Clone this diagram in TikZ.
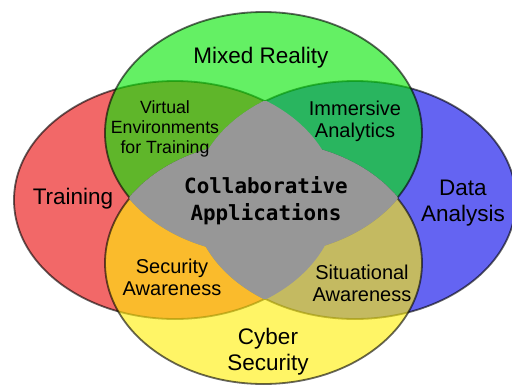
\documentclass[tikz,border=0pt]{standalone}
\usepackage{fontspec}
\setmainfont{Liberation Sans}
\newfontfamily\monofont{DejaVu Sans Mono}
\definecolor{redc}{RGB}{242,104,104}
\definecolor{bluec}{RGB}{100,100,242}
\definecolor{greenc}{RGB}{5,231,5}
\definecolor{yellowc}{RGB}{255,239,8}
\definecolor{grayc}{RGB}{151,151,151}
\begin{document}
\begin{tikzpicture}[x=1pt,y=-1pt,
  outline/.style={draw=black, draw opacity=0.6, line width=1.8pt},
  overlay fill/.style={fill opacity=0.62},
  graycover/.style={draw=grayc, line width=1.9pt},
  biglbl/.style={inner sep=0pt, anchor=base, align=center, font=\fontsize{22.5}{26}\selectfont},
  midlbl/.style={inner sep=0pt, anchor=base, align=center, font=\fontsize{20}{22}\selectfont},
  smalllbl/.style={inner sep=0pt, anchor=base, align=center, font=\fontsize{17.7}{20}\selectfont},
  monolbl/.style={inner sep=0pt, anchor=base, align=center, font=\monofont\bfseries\fontsize{20.9}{27}\selectfont}]
\useasboundingbox (0,0) rectangle (512,386);
\def\redE{(175,200) ellipse [x radius=161, y radius=119]}
\def\blueE{(355,200) ellipse [x radius=161, y radius=119]}
\def\greenE{(263.5,133) ellipse [x radius=158.5, y radius=121]}
\def\yellowE{(263.5,263) ellipse [x radius=158.5, y radius=121]}
% base ellipses
\path[fill=redc, outline] \redE;
\path[fill=bluec, outline] \blueE;
\path[fill=greenc, overlay fill, outline] \greenE;
\path[fill=yellowc, overlay fill, outline] \yellowE;
% central star
\begin{scope}\clip \redE; \fill[grayc] \blueE; \end{scope}
\begin{scope}\clip \greenE; \fill[grayc] \yellowE; \end{scope}
\begin{scope}\clip \redE; \draw[graycover] \blueE; \end{scope}
\begin{scope}\clip \blueE; \draw[graycover] \redE; \end{scope}
\begin{scope}\clip \greenE; \draw[graycover] \yellowE; \end{scope}
\begin{scope}\clip \yellowE; \draw[graycover] \greenE; \end{scope}
% labels (base anchor = baseline of last line)
\node[biglbl] (mixed) at (261,63) {Mixed Reality};
\node[biglbl] (training) at (73,204) {Training};
\node[biglbl] (data) at (463,221) {Data\\Analysis};
\node[biglbl] (cyber) at (268,370) {Cyber\\Security};
\node[smalllbl] (vet) at (165,153) {Virtual\\Environments\\for Training};
\node[midlbl] (imm) at (355,137) {Immersive\\Analytics};
\node[midlbl] (secaw) at (172,295) {Security\\Awareness};
\node[midlbl] (sitaw) at (362,301) {Situational\\Awareness};
\node[monolbl] (collab) at (266,220) {Collaborative\\Applications};
\end{tikzpicture}
\end{document}
